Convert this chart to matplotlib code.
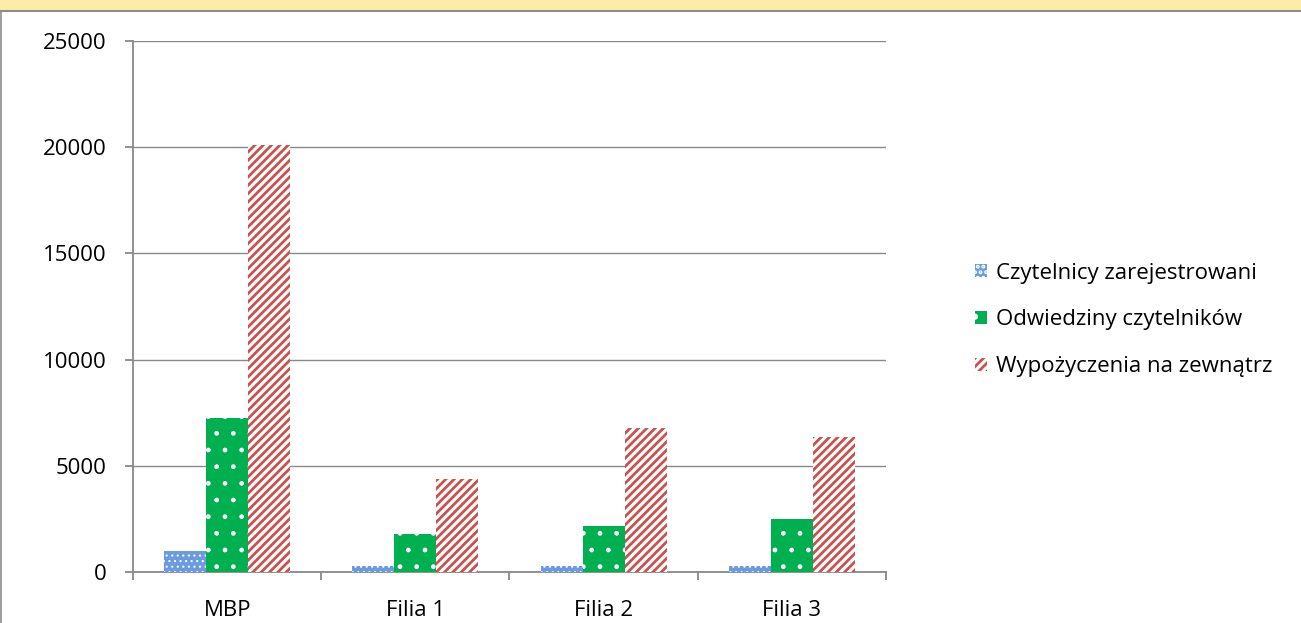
import matplotlib
matplotlib.use("Agg")
import matplotlib.pyplot as plt
import matplotlib.patches as mpatches
import matplotlib.lines as mlines
import numpy as np

categories = ["MBP", "Filia 1", "Filia 2", "Filia 3"]
czytelnicy = [980, 260, 270, 280]
odwiedziny = [7250, 1775, 2180, 2480]
wypozyczenia = [20100, 4365, 6780, 6360]
series_names = ["Czytelnicy zarejestrowani", "Odwiedziny czytelników", "Wypożyczenia na zewnątrz"]

plt.rcParams['font.family'] = ['Open Sans', 'DejaVu Sans']
plt.rcParams['font.size'] = 16

W, H = 1301, 623
fig = plt.figure(figsize=(W / 100, H / 100), dpi=100)
ax = fig.add_axes([133 / W, 1 - 572 / H, (886 - 133) / W, (572 - 41) / H])

x = np.arange(len(categories))
bw = 0.2234
grey = '#898989'

# blue, small white dots
plt.rcParams['hatch.linewidth'] = 0.8
ax.bar(x - bw, czytelnicy, bw, color='#6A9BE0', edgecolor='white', hatch='...',
       linewidth=0, label=series_names[0], zorder=3)
# green, sparse white dots
plt.rcParams['hatch.linewidth'] = 1.0
ax.bar(x, odwiedziny, bw, color='#00B050', edgecolor='white', hatch='.',
       linewidth=0, label=series_names[1], zorder=3)
# red / white diagonal stripes
plt.rcParams['hatch.linewidth'] = 2.0
ax.bar(x + bw, wypozyczenia, bw, color='white', edgecolor='#C9514E', hatch='////',
       linewidth=0, label=series_names[2], zorder=3)

ax.set_xlim(-0.5, 3.5)
ax.set_ylim(0, 25000)
ax.set_yticks(np.arange(0, 25001, 5000))
ax.set_xticks(np.arange(-0.5, 3.6, 1.0), minor=False)
ax.set_xticklabels([])
ax.set_xticks(x, minor=True)
ax.set_xticklabels(categories, minor=True)
ax.tick_params(axis='x', which='major', length=6, color=grey, width=1.3, direction='out')
ax.tick_params(axis='x', which='minor', length=0, pad=20)
ax.tick_params(axis='y', length=6, color=grey, width=1.3, pad=13)

ax.yaxis.grid(True, color=grey, linewidth=1.0, zorder=0)
ax.set_axisbelow(True)
for s in ['top', 'right']:
    ax.spines[s].set_visible(False)
for s in ['left', 'bottom']:
    ax.spines[s].set_color(grey)
    ax.spines[s].set_linewidth(1.3)

fig.legend(loc='center left', bbox_to_anchor=(975 / W, 1 - 320 / H), frameon=False,
           handlelength=0.54, handleheight=0.54, handletextpad=0.4,
           labelspacing=1.16, borderpad=0, borderaxespad=0, fontsize=16)

# header band and border
fig.patches.append(mpatches.Rectangle((0, 1 - 10 / H), 1, 10 / H, transform=fig.transFigure,
                                      color='#FFEBA8', zorder=0))
fig.lines.append(mlines.Line2D([0, 1], [1 - 10.5 / H, 1 - 10.5 / H], transform=fig.transFigure,
                               color='#8C8C8C', linewidth=1.5))
fig.lines.append(mlines.Line2D([1.5 / W, 1.5 / W], [0, 1 - 10.5 / H], transform=fig.transFigure,
                               color='#8C8C8C', linewidth=1.2))

fig.savefig('out.png', dpi=100)
